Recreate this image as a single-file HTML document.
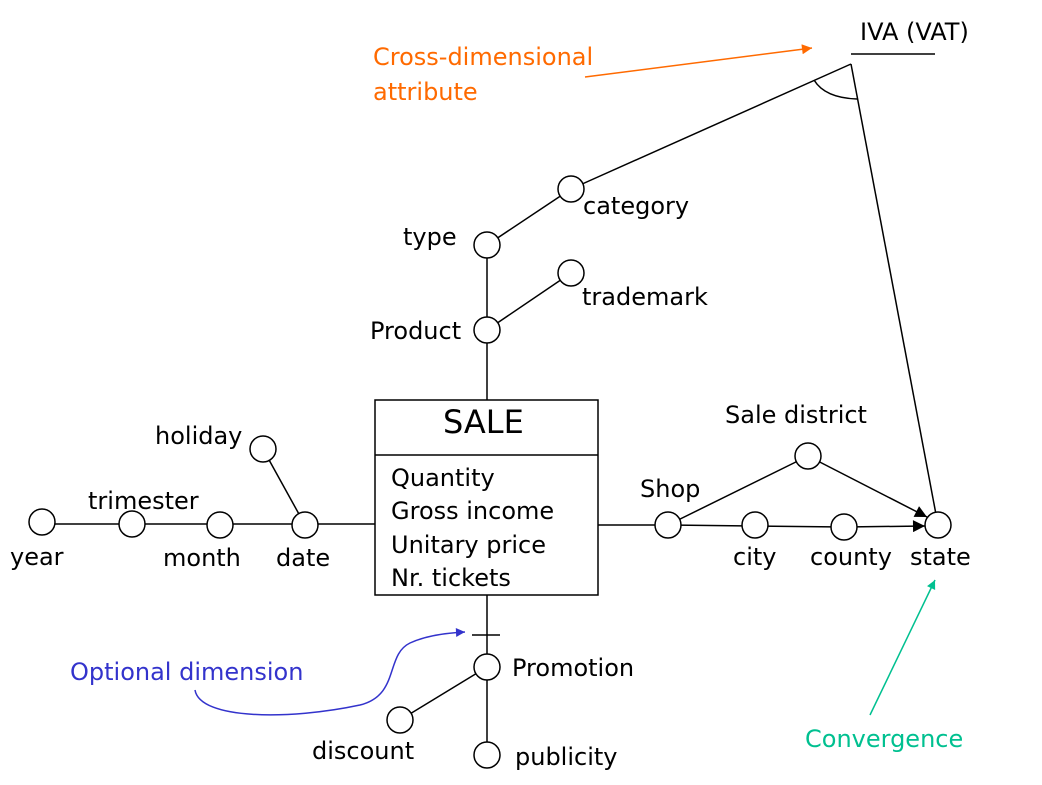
<!DOCTYPE html>
<html><head><meta charset="utf-8"><style>
html,body{margin:0;padding:0;background:#fff;}
svg{display:block;}
text{font-family:"DejaVu Sans","Liberation Sans",sans-serif;font-size:24px;fill:#000;}
</style></head><body>
<svg width="1042" height="785" viewBox="0 0 1042 785">
<defs>
<marker id="ab" viewBox="0 0 10 10" refX="10" refY="5" markerWidth="16" markerHeight="12" orient="auto" markerUnits="userSpaceOnUse"><path d="M0,0 L10,5 L0,10 z" fill="#000"/></marker>
<marker id="ao" viewBox="0 0 10 10" refX="10" refY="5" markerWidth="16" markerHeight="10" orient="auto" markerUnits="userSpaceOnUse"><path d="M0,0 L10,5 L0,10 z" fill="#ff6a00"/></marker>
<marker id="ablue" viewBox="0 0 10 10" refX="10" refY="5" markerWidth="12" markerHeight="9" orient="auto" markerUnits="userSpaceOnUse"><path d="M0,0 L10,5 L0,10 z" fill="#3333cc"/></marker>
<marker id="ag" viewBox="0 0 10 10" refX="10" refY="5" markerWidth="14" markerHeight="9" orient="auto" markerUnits="userSpaceOnUse"><path d="M0,0 L10,5 L0,10 z" fill="#00c090"/></marker>
</defs>
<g stroke="#000" stroke-width="1.5" fill="none">
<line x1="42" y1="524" x2="375" y2="524"/>
<line x1="263" y1="449" x2="305" y2="525"/>
<line x1="487" y1="245" x2="487" y2="400"/>
<line x1="487" y1="330" x2="571" y2="273"/>
<line x1="487" y1="245" x2="571" y2="189"/>
<line x1="571" y1="189" x2="851" y2="64"/>
<line x1="851" y1="64" x2="938" y2="525"/>
<line x1="851" y1="54" x2="935" y2="54"/>
<path d="M814,80 Q825,98 857,99"/>
<rect x="375" y="400" width="223" height="195"/>
<line x1="375" y1="455" x2="598" y2="455"/>
<line x1="598" y1="525" x2="668" y2="525"/>
<line x1="668" y1="525" x2="844" y2="527"/>
<line x1="844" y1="527" x2="925" y2="526" marker-end="url(#ab)"/>
<line x1="668" y1="525" x2="808" y2="456"/>
<line x1="808" y1="456" x2="927" y2="517" marker-end="url(#ab)"/>
<line x1="487" y1="595" x2="487" y2="755"/>
<line x1="472" y1="635" x2="500" y2="635"/>
<line x1="487" y1="667" x2="400" y2="720"/>
</g>
<g stroke="#000" stroke-width="1.5" fill="#fff">
<circle cx="42" cy="522" r="13"/><circle cx="132" cy="524" r="13"/><circle cx="220" cy="525" r="13"/><circle cx="305" cy="525" r="13"/><circle cx="263" cy="449" r="13"/>
<circle cx="487" cy="330" r="13"/><circle cx="487" cy="245" r="13"/><circle cx="571" cy="189" r="13"/><circle cx="571" cy="273" r="13"/>
<circle cx="668" cy="525" r="13"/><circle cx="755" cy="525" r="13"/><circle cx="844" cy="527" r="13"/><circle cx="938" cy="525" r="13"/><circle cx="808" cy="456" r="13"/>
<circle cx="487" cy="667" r="13"/><circle cx="400" cy="720" r="13"/><circle cx="487" cy="755" r="13"/>
</g>
<line x1="585" y1="77" x2="812" y2="48" stroke="#ff6a00" stroke-width="1.5" marker-end="url(#ao)"/>
<path d="M195,690 C200,720 290,720 360,705 C400,695 385,655 410,643 C425,636 445,633 465,632" stroke="#3333cc" stroke-width="1.5" fill="none" marker-end="url(#ablue)"/>
<line x1="870" y1="715" x2="935" y2="580" stroke="#00c090" stroke-width="1.5" marker-end="url(#ag)"/>
<g>
<text x="860" y="40">IVA (VAT)</text>
<text x="373" y="65" style="fill:#ff6a00">Cross-dimensional</text>
<text x="373" y="100" style="fill:#ff6a00">attribute</text>
<text x="583" y="214">category</text>
<text x="403" y="245">type</text>
<text x="582" y="305">trademark</text>
<text x="370" y="339">Product</text>
<text x="443" y="433" style="font-size:32px">SALE</text>
<text x="391" y="486">Quantity</text>
<text x="391" y="519">Gross income</text>
<text x="391" y="553">Unitary price</text>
<text x="391" y="586">Nr. tickets</text>
<text x="155" y="444">holiday</text>
<text x="88" y="509">trimester</text>
<text x="10" y="565">year</text>
<text x="163" y="566">month</text>
<text x="276" y="566">date</text>
<text x="725" y="423">Sale district</text>
<text x="640" y="497">Shop</text>
<text x="733" y="565">city</text>
<text x="810" y="565">county</text>
<text x="910" y="565">state</text>
<text x="512" y="676">Promotion</text>
<text x="70" y="680" style="fill:#3333cc">Optional dimension</text>
<text x="312" y="759">discount</text>
<text x="515" y="765">publicity</text>
<text x="805" y="747" style="fill:#00c090">Convergence</text>
</g>
</svg>
</body></html>
